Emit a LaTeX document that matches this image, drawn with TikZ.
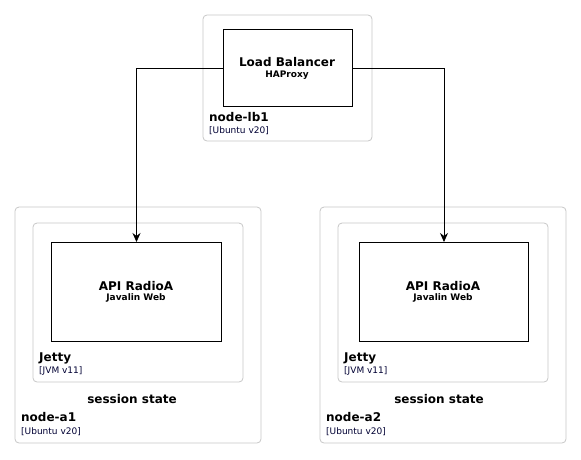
\documentclass[tikz,border=0pt]{standalone}
\usepackage{fontspec}
\setmainfont{DejaVu Sans}
\usetikzlibrary{arrows.meta}
\begin{document}
\begin{tikzpicture}[x=1pt,y=-1pt,
  outerbox/.style={draw=black!22,rounded corners=4pt,line width=0.8pt},
  compbox/.style={draw=black,line width=1pt},
  title/.style={font=\fontsize{12}{14}\selectfont\bfseries,inner sep=0pt},
  sub/.style={font=\fontsize{9}{11}\selectfont\bfseries,inner sep=0pt},
  lbl/.style={font=\fontsize{12}{14}\selectfont\bfseries,anchor=base west,inner sep=0pt},
  small/.style={font=\fontsize{9}{11}\selectfont,anchor=base west,inner sep=0pt,text=black!80!blue},
  conn/.style={draw=black,line width=0.8pt,-{Stealth[length=9pt,width=8pt,inset=3pt]}}
]
\useasboundingbox (0,0) rectangle (581,459);
% load balancer node
\draw[outerbox] (203,15) rectangle (372,141);
\node[compbox,minimum width=129pt,minimum height=77pt,anchor=north west] (lb) at (223,29) {};
\node[title] (lbt) at (287,62) {Load Balancer};
\node[sub] (lbs) at (287,75) {HAProxy};
\node[lbl] (lbn) at (209,121) {node-lb1};
\node[small] (lbu) at (209,133) {[Ubuntu v20]};
% node-a1
\draw[outerbox] (15,207) rectangle (261,443);
\draw[outerbox] (33,223) rectangle (243,382);
\node[compbox,minimum width=170pt,minimum height=99pt,anchor=north west] (a1) at (51,242) {};
\node[title] (a1t) at (136,286) {API RadioA};
\node[sub] (a1s) at (136,298) {Javalin Web};
\node[lbl] (j1) at (39,361) {Jetty};
\node[small] (j1v) at (39,373) {[JVM v11]};
\node[title,anchor=base] (s1) at (132,403) {session state};
\node[lbl] (n1) at (21,421) {node-a1};
\node[small] (n1u) at (21,434) {[Ubuntu v20]};
% node-a2
\draw[outerbox] (320,207) rectangle (566,443);
\draw[outerbox] (338,223) rectangle (548,382);
\node[compbox,minimum width=169pt,minimum height=99pt,anchor=north west] (a2) at (359,242) {};
\node[title] (a2t) at (443,286) {API RadioA};
\node[sub] (a2s) at (443,298) {Javalin Web};
\node[lbl] (j2) at (344,361) {Jetty};
\node[small] (j2v) at (344,373) {[JVM v11]};
\node[title,anchor=base] (s2) at (439,403) {session state};
\node[lbl] (n2) at (326,421) {node-a2};
\node[small] (n2u) at (326,434) {[Ubuntu v20]};
% connectors
\draw[conn] (lb.west) -| (a1.north);
\draw[conn] (lb.east) -| (a2.north);
\end{tikzpicture}
\end{document}
